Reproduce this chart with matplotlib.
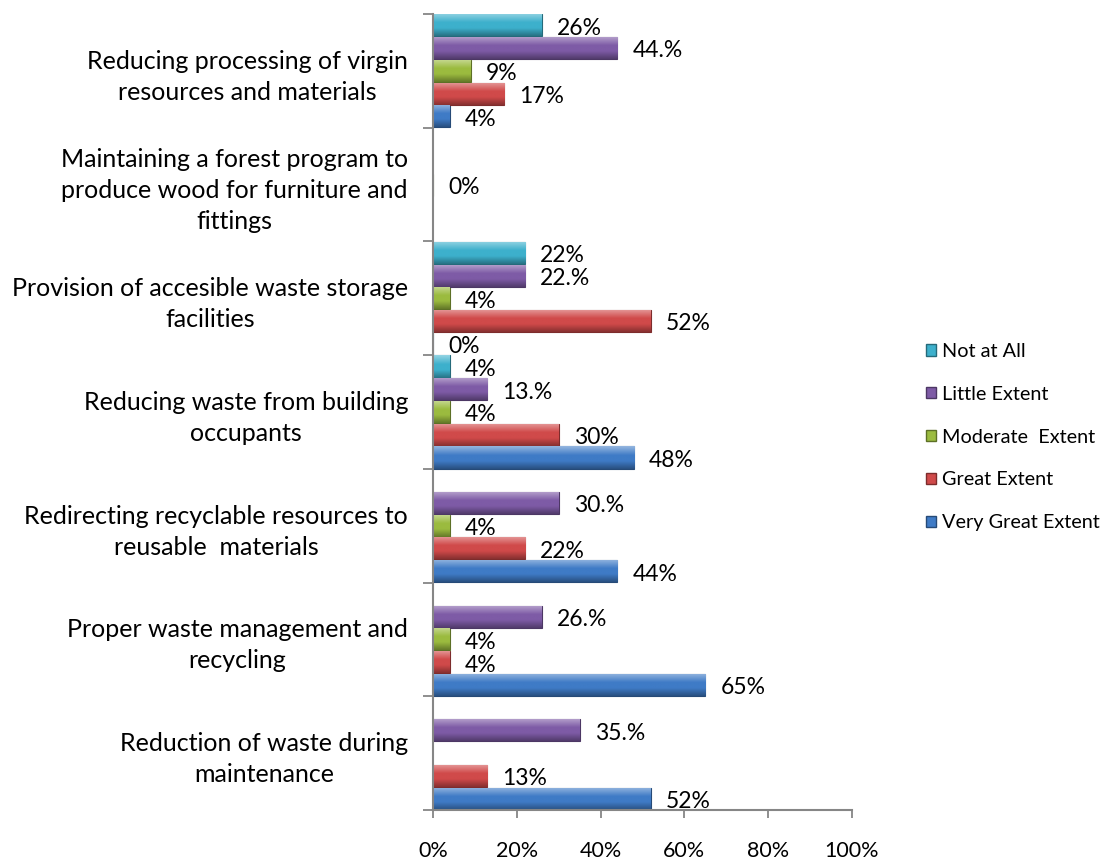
import numpy as np
import matplotlib
matplotlib.use("Agg")
import matplotlib.pyplot as plt
from matplotlib.colors import to_rgb
from matplotlib.patches import Patch

plt.rcParams['font.family'] = ['Lato', 'DejaVu Sans']

categories = [
    "Reduction of waste during\nmaintenance",
    "Proper waste management and\nrecycling",
    "Redirecting recyclable resources to\nreusable  materials",
    "Reducing waste from building\noccupants",
    "Provision of accesible waste storage\nfacilities",
    "Maintaining a forest program to\nproduce wood for furniture and\nfittings",
    "Reducing processing of virgin\nresources and materials",
]
series_names = ["Very Great Extent", "Great Extent", "Moderate  Extent", "Little Extent", "Not at All"]
nan = np.nan
very_great = [52, 65, 44, 48, 0, nan, 4]
great = [13, 4, 22, 30, 52, nan, 17]
moderate = [nan, 4, 4, 4, 4, 0, 9]
little = [35, 26, 30, 13, 22, nan, 44]
not_at_all = [nan, nan, nan, 4, 22, nan, 26]
label_fmt = ["{:.0f}%", "{:.0f}%", "{:.0f}%", "{:.0f}.%", "{:.0f}%"]
colors = ["#3F7BC6", "#D04A4A", "#9BBB3F", "#7E5BA6", "#3DB0CC"]
xticks = [0, 20, 40, 60, 80, 100]
xtick_labels = ["0%", "20%", "40%", "60%", "80%", "100%"]

series = [very_great, great, moderate, little, not_at_all]

fig = plt.figure(figsize=(11.08, 8.61), dpi=100)
ax = fig.add_axes([433/1108, 51/861, 419/1108, 796/861])

def gradient_rgb(color, n=64):
    base = np.array(to_rgb(color))
    t = np.linspace(0, 1, n)
    rows = []
    for ti in t:
        c = base.copy()
        if ti < 0.4:
            w = (1 - ti/0.4) * 0.45
            c = c*(1-w) + w
        elif ti > 0.65:
            w = (ti-0.65)/0.35 * 0.35
            c = c*(1-w)
        rows.append(c)
    return np.array(rows)[:, None, :]

h = 0.2
cat_pos = np.arange(len(categories))
for i, (vals, col, fmt) in enumerate(zip(series, colors, label_fmt)):
    ypos = cat_pos - 0.4 + h*i
    for y, v in zip(ypos, vals):
        if np.isnan(v):
            continue
        bars = ax.barh(y, v, height=h*0.97, color=col, edgecolor=tuple(np.array(to_rgb(col))*0.6),
                       linewidth=0.8, zorder=2)
        if v > 0:
            patch = bars.patches[0]
            im = ax.imshow(gradient_rgb(col), extent=[0, v, y - h*0.97/2, y + h*0.97/2],
                           origin='upper', aspect='auto', zorder=2.5, interpolation='bilinear')
            im.set_clip_path(patch)
        ax.text(v + 3.6, y - 0.025, fmt.format(v), va='center', ha='left', fontsize=16.5, color='black')

ax.set_xlim(0, 100)
ax.set_ylim(-0.5, len(categories) - 0.5)
ax.set_xticks(xticks)
ax.set_xticklabels(xtick_labels, fontsize=15.5)
ax.set_yticks(cat_pos)
ax.set_yticklabels(categories, fontsize=18)
for lab in ax.get_yticklabels():
    lab.set_multialignment('center')
    lab.set_linespacing(1.42)
ax.set_yticks(np.arange(-0.5, len(categories), 1.0), minor=True)
ax.tick_params(axis='y', which='major', length=0, pad=18)
ax.tick_params(axis='y', which='minor', length=7, width=1.3, color='#868686', direction='out')
ax.tick_params(axis='x', which='major', length=6, width=1.3, color='#868686', direction='out', pad=16)

for s in ['top', 'right']:
    ax.spines[s].set_visible(False)
for s in ['left', 'bottom']:
    ax.spines[s].set_color('#868686')
    ax.spines[s].set_linewidth(1.5)

handles = [Patch(facecolor=colors[i], edgecolor=tuple(np.array(to_rgb(colors[i]))*0.6), label=series_names[i])
           for i in range(4, -1, -1)]
fig.legend(handles=handles, loc='upper left', bbox_to_anchor=(926/1108, 1 - 343/861), frameon=False,
           fontsize=14.3, handlelength=0.5, handleheight=0.5, handletextpad=0.3, labelspacing=1.3,
           borderpad=0, borderaxespad=0)

fig.savefig("out.png", dpi=100)
